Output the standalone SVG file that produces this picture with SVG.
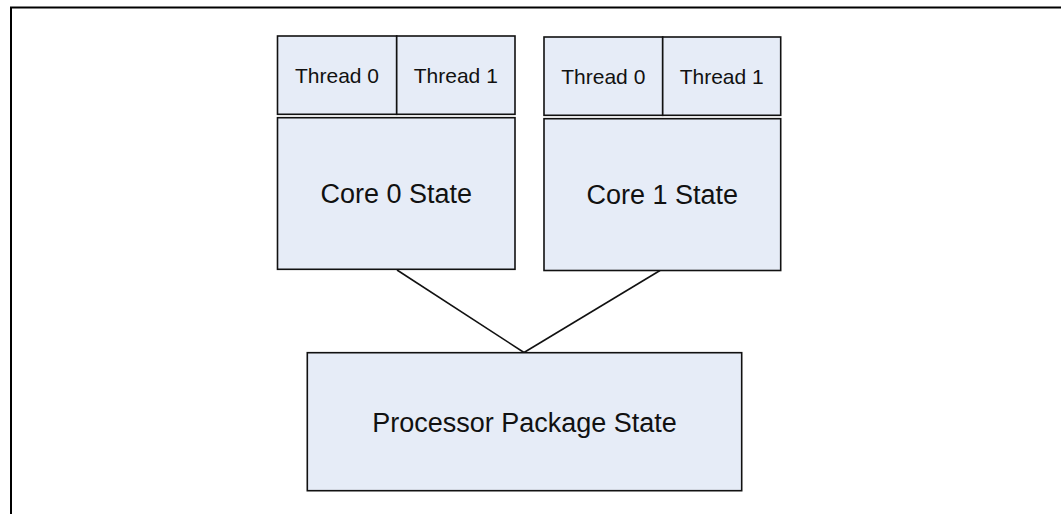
<svg xmlns="http://www.w3.org/2000/svg" width="1061" height="514" viewBox="0 0 1061 514">
<style>
.box{fill:#e6ecf7;stroke:#111;stroke-width:1.6}
.conn{stroke:#111;stroke-width:1.6;fill:none}
.t{font-family:"Liberation Sans",Arial,sans-serif;fill:#111;text-anchor:middle}
.th{font-size:21px}
.big{font-size:27px}
</style>
<rect width="1061" height="514" fill="#fff"/>
<path d="M11,514 V7.5 H1061" fill="none" stroke="#000" stroke-width="2"/>
<g id="connectors">
<line class="conn" x1="397" y1="270" x2="524" y2="352.5"/>
<line class="conn" x1="660" y1="270.5" x2="524" y2="352.5"/>
</g>
<g id="core0-thread0">
<rect class="box" x="277.5" y="36" width="119.2" height="78.3"/>
<text class="t th" x="337" y="83">Thread 0</text>
</g>
<g id="core0-thread1">
<rect class="box" x="396.7" y="36" width="118.3" height="78.3"/>
<text class="t th" x="455.8" y="83">Thread 1</text>
</g>
<g id="core0">
<rect class="box" x="277.5" y="117.7" width="237.5" height="151.6"/>
<text class="t big" x="396.3" y="203">Core 0 State</text>
</g>
<g id="core1-thread0">
<rect class="box" x="544" y="37" width="118.7" height="78.3"/>
<text class="t th" x="603.3" y="84">Thread 0</text>
</g>
<g id="core1-thread1">
<rect class="box" x="662.7" y="37" width="118" height="78.3"/>
<text class="t th" x="721.7" y="84">Thread 1</text>
</g>
<g id="core1">
<rect class="box" x="544" y="118.7" width="236.7" height="151.8"/>
<text class="t big" x="662.3" y="204">Core 1 State</text>
</g>
<g id="package">
<rect class="box" x="307.3" y="352.7" width="434.4" height="138"/>
<text class="t big" x="524.5" y="431.5">Processor Package State</text>
</g>
</svg>
